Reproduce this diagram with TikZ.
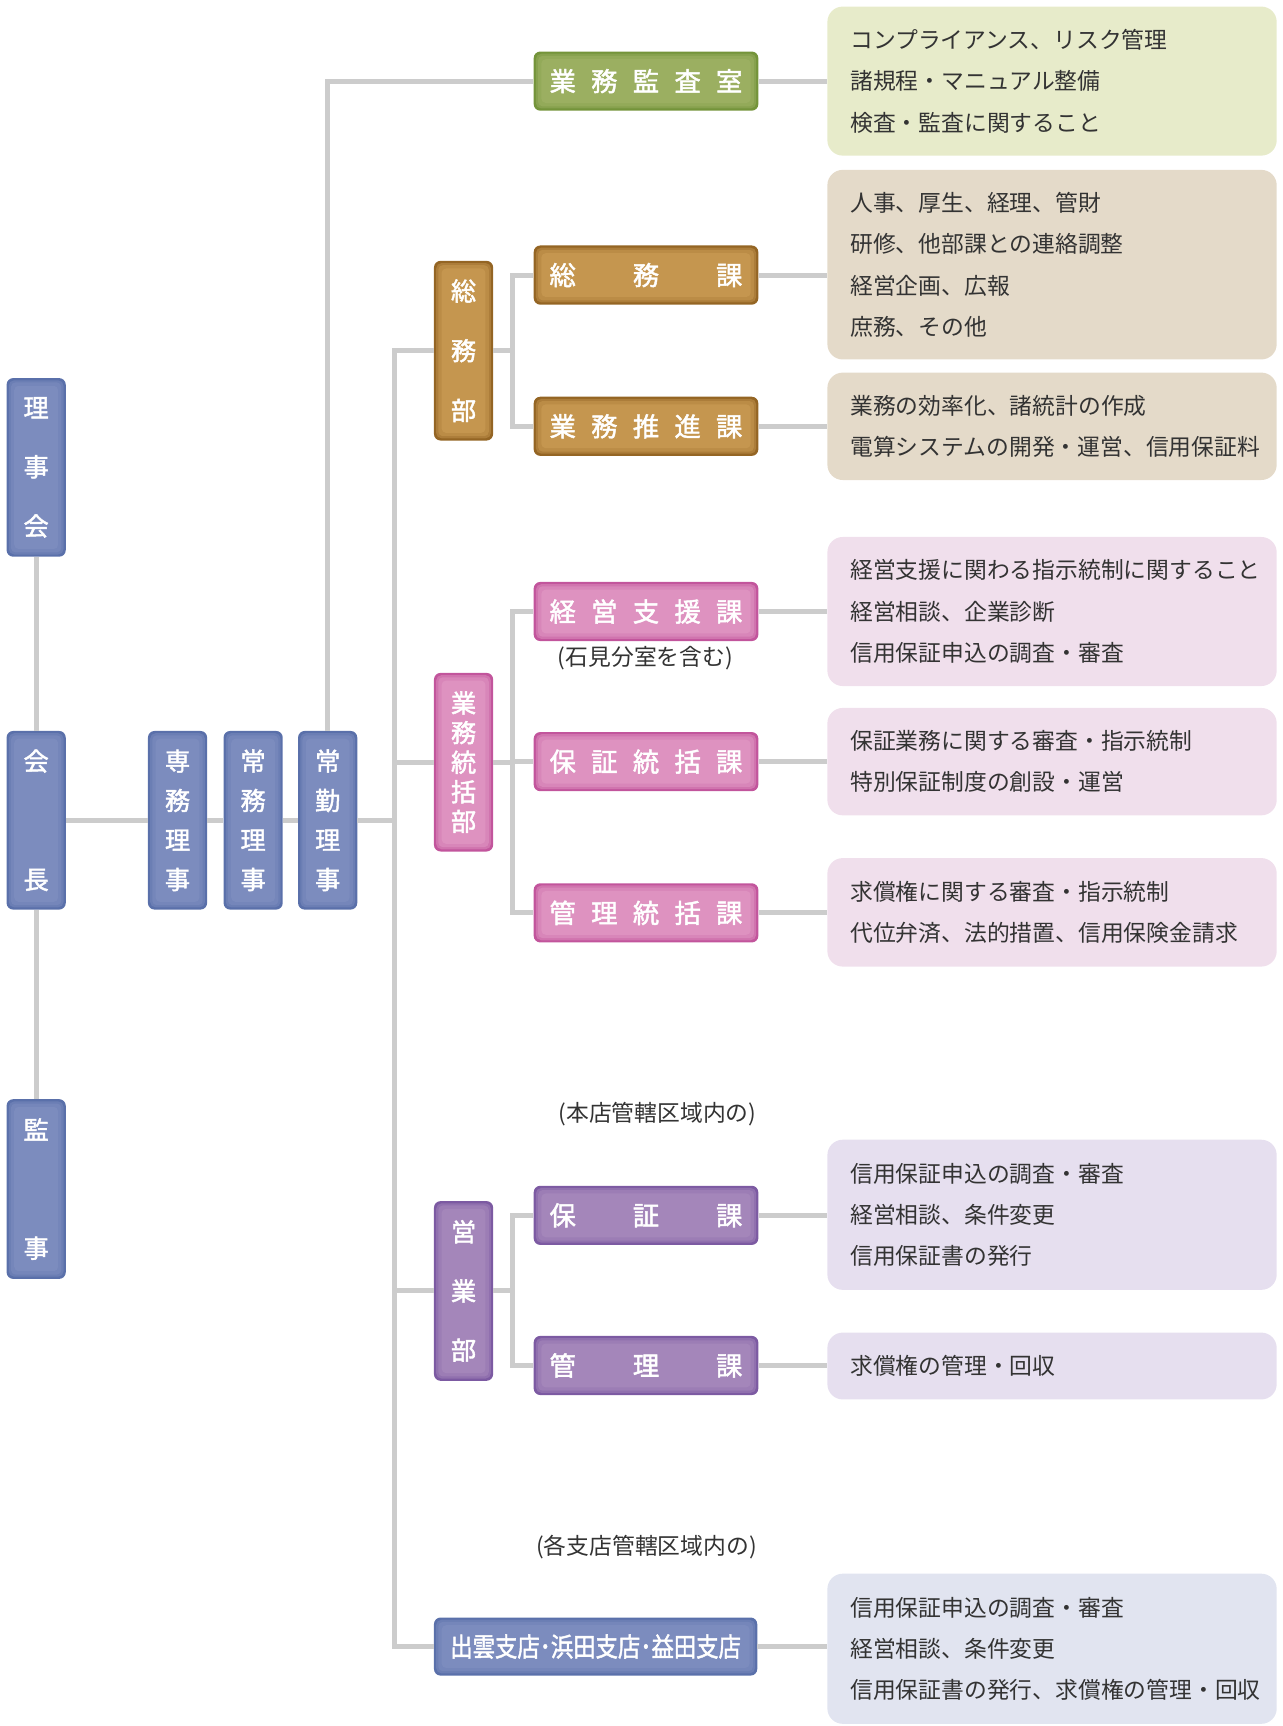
\documentclass[tikz,border=0pt]{standalone}
\usepackage{fontspec}
\setmainfont{Noto Sans CJK JP}
\newfontfamily\labfont[FakeBold=1.8]{Noto Sans CJK JP}
\usepackage{graphicx}
\usetikzlibrary{calc}
\definecolor{linegray}{HTML}{CCCCCC}
\definecolor{blueE}{HTML}{5A70AA}\definecolor{blueC}{HTML}{7C8CBE}
\definecolor{greenE}{HTML}{74943A}\definecolor{greenC}{HTML}{9BAF61}
\definecolor{tanE}{HTML}{946524}\definecolor{tanC}{HTML}{C5964F}
\definecolor{pinkE}{HTML}{C2559C}\definecolor{pinkC}{HTML}{DE92C0}
\definecolor{purpE}{HTML}{7C5AA2}\definecolor{purpC}{HTML}{A486BA}
\definecolor{dGreen}{HTML}{E7EBCA}
\definecolor{dTan}{HTML}{E4DAC9}
\definecolor{dPink}{HTML}{F0DFEC}
\definecolor{dPurp}{HTML}{E6DFEF}
\definecolor{dBlue}{HTML}{E1E4F0}
\definecolor{txt}{HTML}{333333}
\tikzset{
  glow/.style 2 args={rounded corners=6pt, fill=#1, path picture={
    \fill[#1!50!#2, rounded corners=5pt] ($(path picture bounding box.north west)+(2pt,-2pt)$) rectangle ($(path picture bounding box.south east)+(-2pt,2pt)$);
    \fill[#1!20!#2, rounded corners=4pt] ($(path picture bounding box.north west)+(4pt,-4pt)$) rectangle ($(path picture bounding box.south east)+(-4pt,4pt)$);
    \fill[#2, rounded corners=4pt] ($(path picture bounding box.north west)+(7pt,-7pt)$) rectangle ($(path picture bounding box.south east)+(-7pt,7pt)$);
  }},
  vbox/.style 2 args={glow={#1}{#2}, minimum width=54pt, inner sep=0pt, text=white, align=center},
  hbox/.style 2 args={glow={#1}{#2}, minimum width=205pt, minimum height=54pt, inner sep=0pt, text=white,
    font=\labfont\fontsize{24}{27}\selectfont},
  desc/.style={fill=#1, rounded corners=14pt, minimum width=410pt, inner sep=0pt},
  dtext/.style={anchor=west, align=left, inner sep=0pt, text=txt, font=\fontsize{20.8}{37.7}\selectfont},
  note/.style={inner sep=0pt, text=txt, font=\fontsize{20.8}{24}\selectfont},
  conn/.style={draw=linegray, line width=4.5pt},
}
\newcommand{\sA}{\hspace{14pt}}
\newcommand{\sB}{\hspace{52pt}}
\begin{document}
\begin{tikzpicture}[x=1pt,y=-1pt]
\useasboundingbox (0,0) rectangle (1170,1575);
\coordinate (tr) at (360,0);
\coordinate (bx) at (468,0);
% left column
\node[vbox={blueE}{blueC}, minimum height=163pt, font=\labfont\fontsize{23}{54}\selectfont] (riji) at (33,426.5) {理\\事\\会};
\node[vbox={blueE}{blueC}, minimum height=163pt, font=\labfont\fontsize{23}{108}\selectfont] (kaicho) at (33,748.5) {会\\長};
\node[vbox={blueE}{blueC}, minimum height=164pt, font=\labfont\fontsize{23}{108}\selectfont] (kanji) at (33,1085) {監\\事};
\node[vbox={blueE}{blueC}, minimum height=163pt, font=\labfont\fontsize{23}{36}\selectfont] (senmu) at (162,748.5) {専\\務\\理\\事};
\node[vbox={blueE}{blueC}, minimum height=163pt, font=\labfont\fontsize{23}{36}\selectfont] (jomu) at (231,748.5) {常\\務\\理\\事};
\node[vbox={blueE}{blueC}, minimum height=163pt, font=\labfont\fontsize{23}{36}\selectfont] (jokin) at (299,748.5) {常\\勤\\理\\事};
% departments
\node[vbox={tanE}{tanC}, minimum height=164pt, font=\labfont\fontsize{23}{54.5}\selectfont] (soumubu) at (423,320) {総\\務\\部};
\node[vbox={pinkE}{pinkC}, minimum height=163pt, font=\labfont\fontsize{23}{27}\selectfont] (gyomubu) at (423,695.5) {業\\務\\統\\括\\部};
\node[vbox={purpE}{purpC}, minimum height=164pt, font=\labfont\fontsize{23}{54}\selectfont] (eigyobu) at (423,1178) {営\\業\\部};
\node[glow={blueE}{blueC}, minimum width=295pt, minimum height=53pt, inner sep=0pt, text=white] (shiten) at (543.5,1502.5)
  {\labfont\fontsize{24}{27}\selectfont\scalebox{0.85}[1]{出雲支店･浜田支店･益田支店}};
% sections
\node[hbox={greenE}{greenC}] (kansa) at (589.5,74) {業\sA 務\sA 監\sA 査\sA 室};
\node[hbox={tanE}{tanC}] (soumuka) at (589.5,251) {総\sB 務\sB 課};
\node[hbox={tanE}{tanC}] (suishin) at (589.5,389) {業\sA 務\sA 推\sA 進\sA 課};
\node[hbox={pinkE}{pinkC}] (shien) at (589.5,558) {経\sA 営\sA 支\sA 援\sA 課};
\node[hbox={pinkE}{pinkC}] (htoka) at (589.5,695) {保\sA 証\sA 統\sA 括\sA 課};
\node[hbox={pinkE}{pinkC}] (ktoka) at (589.5,833) {管\sA 理\sA 統\sA 括\sA 課};
\node[hbox={purpE}{purpC}] (hosho) at (589.5,1109) {保\sB 証\sB 課};
\node[hbox={purpE}{purpC}] (kanri) at (589.5,1246) {管\sB 理\sB 課};
% notes
\node[note] (n1) at (589,601) {(石見分室を含む)};
\node[note] (n2) at (600,1017) {(本店管轄区域内の)};
\node[note] (n3) at (590,1412) {(各支店管轄区域内の)};
% description boxes
\node[desc=dGreen, minimum height=136pt] (dA) at (960,74) {};
\node[dtext] (tA) at ([xshift=21pt]dA.west) {コンプライアンス、リスク管理\\諸規程・マニュアル整備\\検査・監査に関すること};
\node[desc=dTan, minimum height=173pt] (dB) at (960,241.5) {};
\node[dtext] (tB) at ([xshift=21pt]dB.west) {人事、厚生、経理、管財\\研修、他部課との連絡調整\\経営企画、広報\\庶務、その他};
\node[desc=dTan, minimum height=98pt] (dC) at (960,389) {};
\node[dtext] (tC) at ([xshift=21pt]dC.west) {業務の効率化、諸統計の作成\\電算システムの開発・運営、信用保証料};
\node[desc=dPink, minimum height=136pt] (dD) at (960,558) {};
\node[dtext] (tD) at ([xshift=21pt]dD.west) {経営支援に関わる指示統制に関すること\\経営相談、企業診断\\信用保証申込の調査・審査};
\node[desc=dPink, minimum height=98pt] (dE) at (960,695) {};
\node[dtext] (tE) at ([xshift=21pt]dE.west) {保証業務に関する審査・指示統制\\特別保証制度の創設・運営};
\node[desc=dPink, minimum height=99pt] (dF) at (960,832.5) {};
\node[dtext] (tF) at ([xshift=21pt]dF.west) {求償権に関する審査・指示統制\\代位弁済、法的措置、信用保険金請求};
\node[desc=dPurp, minimum height=137pt] (dG) at (960,1108.5) {};
\node[dtext] (tG) at ([xshift=21pt]dG.west) {信用保証申込の調査・審査\\経営相談、条件変更\\信用保証書の発行};
\node[desc=dPurp, minimum height=61pt] (dH) at (960,1246.5) {};
\node[dtext] (tH) at ([xshift=21pt]dH.west) {求償権の管理・回収};
\node[desc=dBlue, minimum height=137pt] (dI) at (960,1504.5) {};
\node[dtext] (tI) at ([xshift=21pt]dI.west) {信用保証申込の調査・審査\\経営相談、条件変更\\信用保証書の発行、求償権の管理・回収};
% connectors
\draw[conn] (riji.south) -- (kaicho.north);
\draw[conn] (kaicho.south) -- (kanji.north);
\draw[conn] (kaicho.east) -- (senmu.west);
\draw[conn] (senmu.east) -- (jomu.west);
\draw[conn] (jomu.east) -- (jokin.west);
\draw[conn] (jokin.east) -- (jokin.east -| tr);
\draw[conn] (jokin.north) |- (kansa.west);
\draw[conn] (soumubu.west) -- (soumubu.west -| tr) -- (shiten.west -| tr) -- (shiten.west);
\draw[conn] (gyomubu.west) -- (gyomubu.west -| tr);
\draw[conn] (eigyobu.west) -- (eigyobu.west -| tr);
\draw[conn] (soumubu.east) -- (soumubu.east -| bx);
\draw[conn] (soumuka.west) -- (soumuka.west -| bx) -- (suishin.west -| bx) -- (suishin.west);
\draw[conn] (gyomubu.east) -- (gyomubu.east -| bx);
\draw[conn] (shien.west) -- (shien.west -| bx) -- (ktoka.west -| bx) -- (ktoka.west);
\draw[conn] (htoka.west) -- (htoka.west -| bx);
\draw[conn] (eigyobu.east) -- (eigyobu.east -| bx);
\draw[conn] (hosho.west) -- (hosho.west -| bx) -- (kanri.west -| bx) -- (kanri.west);
\draw[conn] (kansa.east) -- (kansa.east -| dA.west);
\draw[conn] (soumuka.east) -- (soumuka.east -| dB.west);
\draw[conn] (suishin.east) -- (suishin.east -| dC.west);
\draw[conn] (shien.east) -- (shien.east -| dD.west);
\draw[conn] (htoka.east) -- (htoka.east -| dE.west);
\draw[conn] (ktoka.east) -- (ktoka.east -| dF.west);
\draw[conn] (hosho.east) -- (hosho.east -| dG.west);
\draw[conn] (kanri.east) -- (kanri.east -| dH.west);
\draw[conn] (shiten.east) -- (shiten.east -| dI.west);
\end{tikzpicture}
\end{document}
